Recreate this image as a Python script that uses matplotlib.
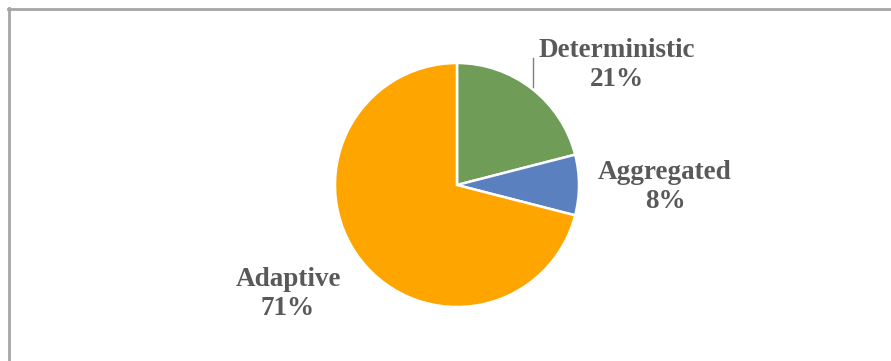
import matplotlib
matplotlib.use("Agg")
import matplotlib.pyplot as plt
from matplotlib.lines import Line2D

labels = ["Deterministic", "Aggregated", "Adaptive"]
shares = [21, 8, 71]
colors = ["#6F9D58", "#5B80C0", "#FFA500"]

# label anchor points (pixel space, y measured from the top)
label_xy = [(617, 65), (665, 187), (288, 294)]

W, H = 891, 361
fig = plt.figure(figsize=(W / 100, H / 100), dpi=100)
ax = fig.add_axes([0, 0, 1, 1])

cx, cy, r = 457, H - 185, 122
ax.pie(shares, colors=colors, startangle=90, counterclock=False,
       center=(cx, cy), radius=r, frame=True,
       wedgeprops=dict(edgecolor="white", linewidth=1.8))
ax.set_xlim(0, W)
ax.set_ylim(0, H)
ax.set_aspect("equal")
ax.axis("off")

for lab, val, (x, y) in zip(labels, shares, label_xy):
    ax.text(x, H - y, f"{lab}\n{val}%", ha="center", va="center",
            family="Liberation Serif", fontweight="bold", fontsize=19.5,
            color="#595959", linespacing=1.2)

# leader line for the Deterministic label
ax.plot([533, 533], [H - 58, H - 87], color="#7F7F7F", lw=1.0)

# frame edges visible in the screenshot (top and left only)
fig.add_artist(Line2D([8 / W, 1], [1 - 9 / H, 1 - 9 / H], color="#A6A6A6", lw=2.0))
fig.add_artist(Line2D([9 / W, 9 / W], [0, 1 - 8 / H], color="#A6A6A6", lw=2.0))

fig.savefig("out.png", dpi=100, facecolor="white")
